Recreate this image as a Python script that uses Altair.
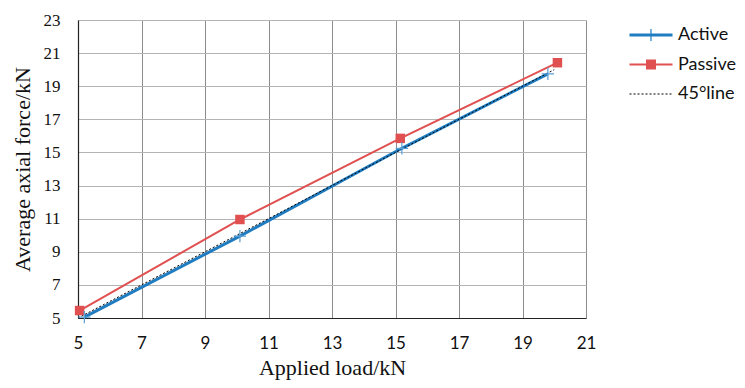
import altair as alt
import pandas as pd

# ---- data ----
active_x = [5.2, 10.1, 15.2, 19.8]
active_y = [5.05, 9.95, 15.25, 19.75]
passive_x = [5.05, 10.1, 15.15, 20.1]
passive_y = [5.45, 10.95, 15.85, 20.42]
line45_x = [5.0, 20.0]
line45_y = [5.0, 20.0]
x_ticks = [5, 7, 9, 11, 13, 15, 17, 19, 21]
y_ticks = [5, 7, 9, 11, 13, 15, 17, 19, 21, 23]
series = ["Active", "Passive", "45°line"]
colors = ["#1f7cc0", "#e05050", "#000000"]

active = pd.DataFrame({"x": active_x, "y": active_y})
passive = pd.DataFrame({"x": passive_x, "y": passive_y})
line45 = pd.DataFrame({"x": line45_x, "y": line45_y})
legend_df = pd.DataFrame({"x": [5.0] * 3, "y": [5.0] * 3, "series": series})

# legend symbol shapes (filled paths): line + marker, 1 unit = 10 px
dots = "".join(
    f"M{-2.15 + i * 0.4:.3f},-0.05H{-2.15 + i * 0.4 + 0.2:.3f}V0.05H{-2.15 + i * 0.4:.3f}Z"
    for i in range(11)
)
shapes = [
    "M-2.15,-0.15H2.15V0.15H-2.15Z M-0.06,-0.6H0.06V0.6H-0.06Z",
    "M-2.15,-0.1H2.15V0.1H-2.15Z M-0.5,-0.5H0.5V0.5H-0.5Z",
    dots,
]

x_enc = alt.X(
    "x:Q",
    scale=alt.Scale(domain=[5, 21], nice=False, zero=False),
    axis=alt.Axis(
        values=x_ticks,
        tickCount=len(x_ticks),
        title="Applied load/kN",
        grid=True,
        gridColor="#8c8c8c",
        gridWidth=1,
        domainColor="#222222",
        domainWidth=1.2,
        ticks=False,
        tickSize=0,
        labelOverlap=False,
        labelFlush=False,
        labelFont="Lato",
        labelFontSize=17,
        labelColor="#111111",
        labelPadding=17,
        titleFont="Liberation Serif",
        titleFontSize=22,
        titleFontWeight="normal",
        titleColor="#111111",
        titlePadding=6,
    ),
)
y_enc = alt.Y(
    "y:Q",
    scale=alt.Scale(domain=[5, 23], nice=False, zero=False),
    axis=alt.Axis(
        values=y_ticks,
        tickCount=len(y_ticks),
        title="Average axial force/kN",
        grid=True,
        gridColor="#b4b4b4",
        gridWidth=1,
        domainColor="#222222",
        domainWidth=1.2,
        ticks=False,
        tickSize=0,
        labelOverlap=False,
        labelFlush=False,
        labelFont="Liberation Serif",
        labelFontSize=17,
        labelColor="#111111",
        labelPadding=18,
        titleFont="Liberation Serif",
        titleFontSize=22,
        titleFontWeight="normal",
        titleColor="#111111",
        titlePadding=9,
    ),
)

passive_line = alt.Chart(passive).mark_line(color=colors[1], strokeWidth=2).encode(x=x_enc, y=y_enc)
passive_pts = alt.Chart(passive).mark_point(
    shape="square", filled=True, color=colors[1], size=90, opacity=1
).encode(x="x:Q", y="y:Q")
active_line = alt.Chart(active).mark_line(color=colors[0], strokeWidth=3).encode(x="x:Q", y="y:Q")
active_pts = alt.Chart(active).mark_point(
    shape="M-1,0H1M0,-1V1", filled=False, color="#5a9fd6", size=150, strokeWidth=1.2, opacity=1
).encode(x="x:Q", y="y:Q")
dotted = alt.Chart(line45).mark_line(color="#000000", strokeWidth=1, strokeDash=[2, 2]).encode(x="x:Q", y="y:Q")

legend_layer = alt.Chart(legend_df).transform_filter("false").mark_point(
    filled=True, strokeWidth=0, opacity=1
).encode(
    x="x:Q",
    y="y:Q",
    color=alt.Color(
        "series:N",
        scale=alt.Scale(domain=series, range=colors),
        legend=alt.Legend(
            title=None,
            orient="none",
            legendX=563,
            legendY=5,
            symbolSize=400,
            labelFont="Lato",
            labelFontSize=18,
            labelColor="#111111",
            labelOffset=17,
            rowPadding=10.5,
            symbolStrokeWidth=0,
        ),
    ),
    shape=alt.Shape("series:N", scale=alt.Scale(domain=series, range=shapes)),
)

chart = (
    alt.layer(passive_line, active_line, dotted, passive_pts, active_pts, legend_layer)
    .properties(
        width=508,
        height=298,
        autosize=alt.AutoSizeParams(type="none"),
        padding={"left": 70, "top": 12, "right": 151, "bottom": 62},
    )
    .configure_view(stroke=None)
    .configure(background="white")
)

chart.save("out.html", embed_options={"renderer": "svg", "actions": False})
